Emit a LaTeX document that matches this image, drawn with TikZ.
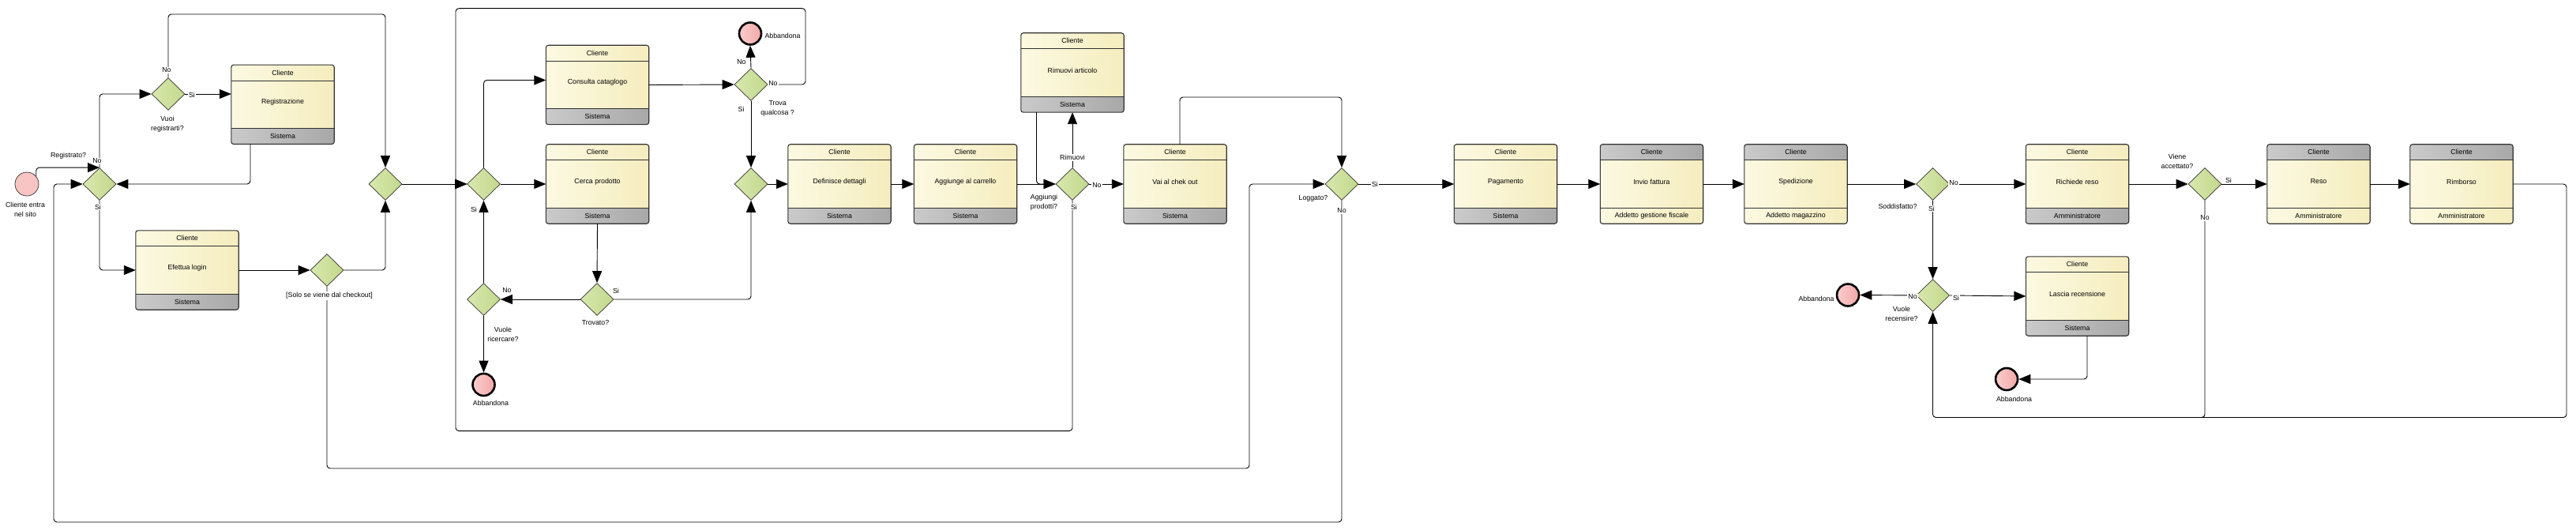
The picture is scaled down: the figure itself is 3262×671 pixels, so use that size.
\documentclass[tikz,border=0pt]{standalone}
\usepackage{fontspec}
\newfontfamily\diafont{Liberation Sans}
\usetikzlibrary{arrows.meta,shapes.geometric}
\definecolor{yL}{RGB}{252,249,226}
\definecolor{yR}{RGB}{245,237,190}
\definecolor{gL}{RGB}{202,202,202}
\definecolor{gR}{RGB}{168,168,168}
\definecolor{dL}{RGB}{216,232,174}
\definecolor{dR}{RGB}{194,216,140}
\definecolor{eL}{RGB}{251,204,204}
\definecolor{eR}{RGB}{243,168,168}
\definecolor{sF}{RGB}{248,196,196}
\definecolor{bord}{RGB}{50,50,50}
\newcommand\actbox[7]{%
  \node[abox] (#1) at (#2,#3) {};
  \begin{scope}
    \clip[rounded corners=3pt] (#1.north west) rectangle (#1.south east);
    \path[#5] (#1.north west) rectangle ([yshift=-20pt]#1.north east);
    \path[ybody] ([yshift=-20pt]#1.north west) rectangle ([yshift=20pt]#1.south east);
    \path[#7] ([yshift=20pt]#1.south west) rectangle (#1.south east);
  \end{scope}
  \draw[sepline] ([yshift=-20pt]#1.north west) -- ([yshift=-20pt]#1.north east);
  \draw[sepline] ([yshift=20pt]#1.south west) -- ([yshift=20pt]#1.south east);
  \draw[boxborder] (#1.north west) rectangle (#1.south east);
  \node[txt] (#1-h) at ([yshift=-10pt]#1.north) {Cliente};
  \node[txt] (#1-t) at ([yshift=3pt]#1.center) {#4};
  \node[txt] (#1-f) at ([yshift=10pt]#1.south) {#6};
}
\begin{document}
\begin{tikzpicture}[x=1pt,y=-1pt,
  txt/.style={font=\diafont\fontsize{8.8}{12}\selectfont, inner sep=0pt, align=center},
  lbl/.style={txt, inner sep=1pt},
  onl/.style={lbl, fill=white},
  abox/.style={rectangle, minimum width=130pt, minimum height=100pt, inner sep=0pt},
  ybody/.style={left color=yL, right color=yR},
  Y/.style={left color=yL, right color=yR},
  G/.style={left color=gL, right color=gR},
  sepline/.style={draw=bord, line width=0.9pt},
  boxborder/.style={draw=bord, line width=1.1pt, rounded corners=3pt},
  dia/.style={diamond, draw=bord, line width=0.7pt, minimum width=42pt, minimum height=41pt, inner sep=0pt, left color=dL, right color=dR},
  startev/.style={circle, draw=bord, line width=0.7pt, minimum size=30pt, inner sep=0pt, fill=sF},
  endev/.style={circle, draw=black, line width=2.6pt, minimum size=28pt, inner sep=0pt, left color=eL, right color=eR},
  line/.style={draw=black, line width=0.9pt, rounded corners=4pt},
  flow/.style={line, -{Triangle[length=15pt,width=12pt]}}
]
\useasboundingbox (0,0) rectangle (3262,671);

% ---------- nodes ----------
\node[startev] (S) at (34,233) {};
\node[dia] (D1) at (126,233) {};
\node[dia] (D2) at (213,119) {};
\actbox{R}{358}{132.3}{Registrazione}{Y}{Sistema}{G}
\node[dia] (D3) at (488,233) {};
\actbox{L}{237}{342}{Efettua login}{Y}{Sistema}{G}
\node[dia] (D4) at (414,342) {};
\node[dia] (D5) at (612.5,233) {};
\actbox{C}{756.5}{107.5}{Consulta cataglogo}{Y}{Sistema}{G}
\actbox{P}{756.5}{233}{Cerca prodotto}{Y}{Sistema}{G}
\node[dia] (D6) at (951,107) {};
\node[endev] (E1) at (950,42.5) {};
\node[dia] (D7) at (951,233) {};
\actbox{DD}{1063}{233}{Definisce dettagli}{Y}{Sistema}{G}
\node[dia] (D8) at (756,379) {};
\node[dia] (D9) at (612.5,379) {};
\node[endev] (E2) at (612.5,487) {};
\actbox{AG}{1222.5}{233}{Aggiunge al carrello}{Y}{Sistema}{G}
\node[dia] (D10) at (1358,233) {};
\actbox{RA}{1358}{92}{Rimuovi articolo}{Y}{Sistema}{G}
\actbox{VC}{1488}{233}{Vai al chek out}{Y}{Sistema}{G}
\node[dia] (DL) at (1699,233) {};
\actbox{PG}{1906.5}{233}{Pagamento}{Y}{Sistema}{G}
\actbox{IF}{2091.5}{233}{Invio fattura}{G}{Addetto gestione fiscale}{Y}
\actbox{SP}{2274}{233}{Spedizione}{G}{Addetto magazzino}{Y}
\node[dia] (DS) at (2447.5,233) {};
\actbox{RR}{2630.5}{233}{Richiede reso}{Y}{Amministratore}{G}
\node[dia] (DR) at (2447.5,374) {};
\node[endev] (E3) at (2340,373.5) {};
\actbox{LR}{2630.5}{375}{Lascia recensione}{Y}{Sistema}{G}
\node[endev] (E4) at (2541,480) {};
\node[dia] (DA) at (2792,233) {};
\actbox{RS}{2936}{233}{Reso}{G}{Amministratore}{Y}
\actbox{RB}{3117}{233}{Rimborso}{G}{Amministratore}{Y}

% ---------- connectors ----------
\draw[flow] (S.40) |- (D1.north);
\draw[flow] (D1.north) |- (D2.west);
\draw[flow] (D2.east) -- (D2.east -| R.west);
\draw[flow] ([xshift=-41pt]R.south) |- (D1.east);
\draw[flow] (D2.north) |- (300,18) -| (D3.north);
\draw[flow] (D1.south) |- (L.west);
\draw[flow] (L.east) -- (D4.west);
\draw[flow] (D4.east) -| (D3.south);
\draw[flow] (D4.south) |- (1582,593) -- (1582,233) -- (DL.west);
\draw[flow] (D3.east) -- (D5.west);
\draw[flow] (D5.north) |- ([yshift=6pt]C.west);
\draw[flow] (D5.east) -- (P.west);
\draw[flow] (C.east) -- (D6.west);
\draw[flow] (D6.north) -- (E1.south);
\draw[flow] (D6.east) -| (1020,10.7) -| (577,233) -- (D5.west);
\draw[flow] (D6.south) -- (D7.north);
\draw[flow] (D7.east) -- (DD.west);
\draw[flow] (P.south) -- (D8.north);
\draw[flow] (D8.east) -| (D7.south);
\draw[flow] (D8.west) -- (D9.east);
\draw[flow] (D9.north) -- (D5.south);
\draw[flow] (D9.south) -- (E2.north);
\draw[flow] (DD.east) -- (AG.west);
\draw[flow] (AG.east) -- (D10.west);
\draw[flow] (D10.north) -- (RA.south);
\draw[flow] ([xshift=-45.5pt]RA.south) |- (D10.west);
\draw[flow] (D10.east) -- (VC.west);
\draw[flow] (D10.south) |- (577,545.6) -- (577,233) -- (D5.west);
\draw[flow] ([xshift=6pt]VC.north) |- (1600,123) -| (DL.north);
\draw[flow] (DL.east) -- (PG.west);
\draw[flow] (DL.south) |- (68,661) -- (68,233) -- (D1.west);
\draw[flow] (PG.east) -- (IF.west);
\draw[flow] (IF.east) -- (SP.west);
\draw[flow] (SP.east) -- (DS.west);
\draw[flow] (DS.east) -- (RR.west);
\draw[flow] (DS.south) -- (DR.north);
\draw[flow] (DR.west) -- (E3.east);
\draw[flow] (DR.east) -- (LR.west);
\draw[flow] ([xshift=12.5pt]LR.south) |- (E4.east);
\draw[flow] (RR.east) -- (DA.west);
\draw[flow] (DA.east) -- (RS.west);
\draw[flow] (RS.east) -- (RB.west);
\draw[flow] (RB.east) -| (3250,528.5) -| (DR.south);
\draw[line] (DA.south) |- (2760,528.5);

% ---------- labels ----------
\node[lbl] (tS) at (32,265.5) {Cliente entra\\nel sito};
\node[lbl] (tReg) at (86.6,197) {Registrato?};
\node[onl] (t1n) at (123,204) {No};
\node[onl] (t1s) at (124,262) {Si};
\node[onl] (t2n) at (211,89) {No};
\node[onl] (t2s) at (243,120) {Si};
\node[lbl] (t2) at (212,157) {Vuoi\\registrarti?};
\node[onl] (t4) at (417,374.4) {[Solo se viene dal checkout]};
\node[lbl] (t5s) at (600,265) {Si};
\node[lbl] (t6n) at (939,79) {No};
\node[onl] (t6n2) at (979,106) {No};
\node[lbl] (t6s) at (938.6,138) {Si};
\node[lbl] (t6) at (984.6,137) {Trova\\qualcosa ?};
\node[lbl] (tE1) at (991,45.8) {Abbandona};
\node[lbl] (t8s) at (780,368) {Si};
\node[lbl] (t8) at (754,408.6) {Trovato?};
\node[lbl] (t9n) at (642,368) {No};
\node[lbl] (t9) at (637,423.5) {Vuole\\ricercare?};
\node[lbl] (tE2) at (621.5,510.5) {Abbandona};
\node[lbl] (t10) at (1322,256) {Aggiungi\\prodotti?};
\node[onl] (t10r) at (1358,199.4) {Rimuovi};
\node[onl] (t10n) at (1389,235) {No};
\node[onl] (t10s) at (1360,262) {Si};
\node[lbl] (tL) at (1663,251.6) {Loggato?};
\node[onl] (tLs) at (1741,233) {Si};
\node[onl] (tLn) at (1699,267) {No};
\node[lbl] (tS2) at (2403,261) {Soddisfatto?};
\node[onl] (tSn) at (2474,232) {No};
\node[onl] (tSs) at (2446,264) {Si};
\node[onl] (tRn) at (2422,376) {No};
\node[onl] (tRs) at (2477,377) {Si};
\node[lbl] (tR) at (2408,397) {Vuole\\recensire?};
\node[lbl] (tE3) at (2300,378.7) {Abbandona};
\node[lbl] (tE4) at (2550.5,505) {Abbandona};
\node[lbl] (tA) at (2757,204) {Viene\\accettato?};
\node[onl] (tAs) at (2822,228) {Si};
\node[onl] (tAn) at (2792,276) {No};
\end{tikzpicture}
\end{document}
